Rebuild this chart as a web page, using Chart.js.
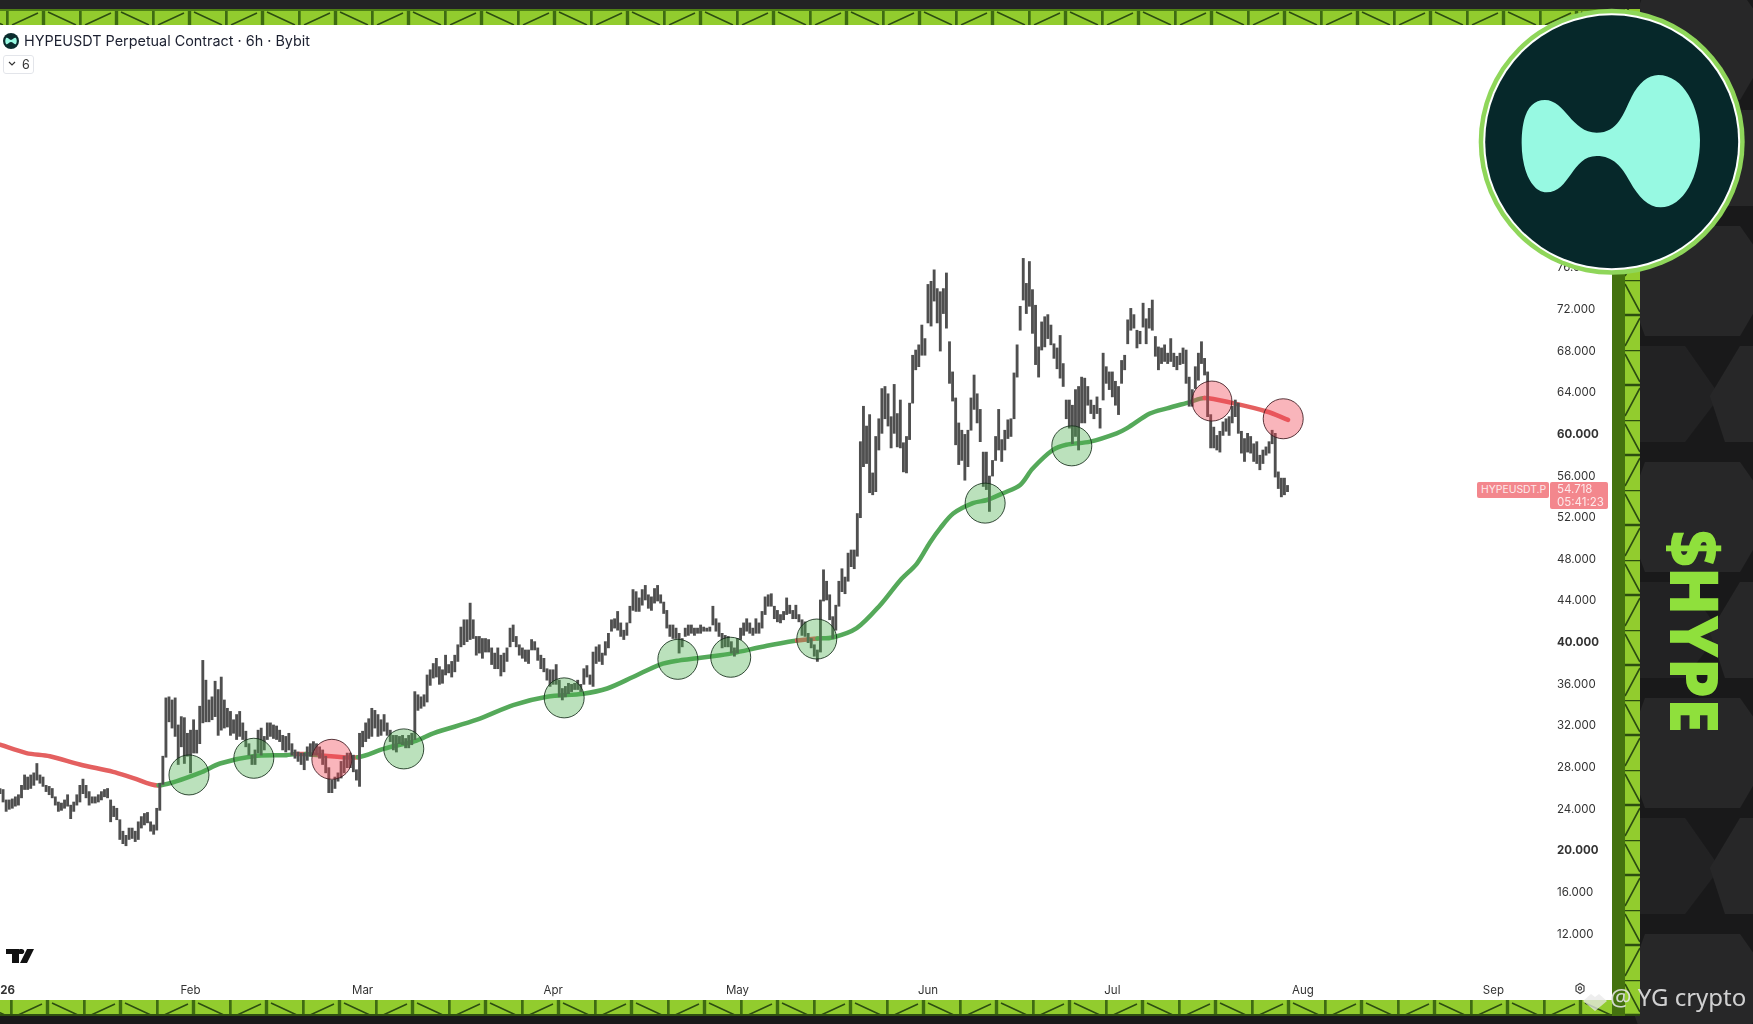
<!DOCTYPE html>
<html>
<head>
<meta charset="utf-8">
<title>HYPEUSDT</title>
<script src="https://cdn.jsdelivr.net/npm/chart.js@4"></script>
<style>
  html, body { margin: 0; padding: 0; background: #19191a; }
  #page { position: relative; width: 1753px; height: 1024px; overflow: hidden; font-family: Inter, "Noto Sans", sans-serif; }
  #bg, #front { position: absolute; left: 0; top: 0; }
  #sheet { position: absolute; left: 0; top: 25px; width: 1612px; height: 975px; background: #fff; }
  #chart { display: block; }
  #title { position: absolute; left: 24px; top: 32px; font-size: 14.4px; line-height: 18px; color: #1c2030; white-space: nowrap; }
  #fold { position: absolute; left: 3px; top: 55px; width: 31px; height: 19px; border: 1px solid #e3e5ea; border-radius: 3px; box-sizing: border-box; font-size: 12.5px; line-height: 18px; color: #333; padding-left: 18px; }
  .tag { position: absolute; background: #f3878d; color: #fde9ea; font-size: 11.5px; border-radius: 2px; box-sizing: border-box; }
  #tagName { left: 1477px; top: 482px; width: 72px; height: 16px; line-height: 16px; padding-left: 4px; font-size: 10.4px; }
  #tagPrice { left: 1550px; top: 482px; width: 58px; height: 27px; line-height: 13px; padding: 1px 0 0 7px; }
</style>
</head>
<body>
<div id="page">
  <svg id="bg" width="1753" height="1024" xmlns="http://www.w3.org/2000/svg">
    <defs>
      <pattern id="plates" width="150" height="236" patternUnits="userSpaceOnUse" x="1625" y="-30">
        <polygon points="20,20 115,20 150,70 115,130 20,130 0,75" fill="#272728"/>
        <polygon points="-30,140 60,140 95,190 60,236 -30,236" fill="#222223"/>
        <polygon points="115,140 150,140 150,236 100,236 85,190" fill="#272728"/>
      </pattern>
      <pattern id="girderH" width="73" height="16" patternUnits="userSpaceOnUse" x="6" y="9">
        <rect width="73" height="16" fill="#92cc2e"/>
        <path d="M1 0V16M37.5 0V16" stroke="#3e6b12" stroke-width="3.4"/>
        <path d="M6 16L32 4M42 3L70 16" stroke="#2c4d10" stroke-width="1.6" fill="none"/>
        <rect width="73" height="2" fill="#4f8016"/>
      </pattern>
      <pattern id="girderB" width="73" height="16" patternUnits="userSpaceOnUse" x="10" y="1000">
        <rect width="73" height="16" fill="#92cc2e"/>
        <path d="M1 0V16M37.5 0V16" stroke="#3e6b12" stroke-width="3.4"/>
        <path d="M6 16L32 4M42 3L70 16" stroke="#2c4d10" stroke-width="1.6" fill="none"/>
        <rect y="14" width="73" height="2" fill="#2f5010"/>
      </pattern>
      <pattern id="girderV" width="15" height="70" patternUnits="userSpaceOnUse" x="1625" y="0">
        <rect width="15" height="70" fill="#92cc2e"/>
        <path d="M0 0H15M0 35H15" stroke="#2c4d10" stroke-width="2.4"/>
        <path d="M0 4L15 32M15 38L0 66" stroke="#2c4d10" stroke-width="1.6" fill="none"/>
      </pattern>
    </defs>
    <rect width="1753" height="1024" fill="#19191a"/>
    <rect x="1625" width="128" height="1024" fill="url(#plates)"/>
    <rect y="0" width="1640" height="9" fill="#232324"/>
    <rect y="9" width="1640" height="16" fill="url(#girderH)"/>
    <rect y="1000" width="1640" height="16" fill="url(#girderB)"/>
    <rect x="1612" y="25" width="13" height="991" fill="#44720f"/>
    <rect x="1625" y="9" width="15" height="1007" fill="url(#girderV)"/>
    <text transform="translate(1670,530) rotate(90)" font-family="Open Sans, sans-serif" font-weight="800" font-size="68" fill="#8fe03c" textLength="203" lengthAdjust="spacingAndGlyphs">$HYPE</text>
  </svg>

  <div id="sheet"><canvas id="chart" width="1612" height="975"></canvas></div>

  <div id="title">HYPEUSDT Perpetual Contract · 6h · Bybit</div>
  <div id="fold">6</div>
  <div id="tagName" class="tag">HYPEUSDT.P</div>
  <div id="tagPrice" class="tag">54.718<br>05:41:23</div>

  <svg id="front" width="1753" height="1024" xmlns="http://www.w3.org/2000/svg" style="pointer-events:none">
    <!-- small symbol icon + fold chevron -->
    <circle cx="11" cy="41" r="8" fill="#0b2c2e"/>
    <path d="M6 38c2-1 3 2 5 2s3-3 5-2c1 2 1 4 0 6c-2 1-3-2-5-2s-3 3-5 2c-1-2-1-4 0-6z" fill="#97f9e2"/>
    <path d="M9 62l3 3l3-3" fill="none" stroke="#333" stroke-width="1.2"/>
    <!-- tradingview mark -->
    <path d="M6 949H19V963H12V954H6ZM21 949A2.6 2.6 0 1 1 21 954A2.6 2.6 0 1 1 21 949ZM27 949H34L27 963H20Z" fill="#111"/>
    <!-- settings icon -->
    <path d="M1576 986l4-2.5 4 2.5v5l-4 2.5-4-2.5z" fill="none" stroke="#444" stroke-width="1.2"/>
    <circle cx="1580" cy="988.5" r="1.6" fill="none" stroke="#444" stroke-width="1.1"/>
    <!-- logo -->
    <circle cx="1611.7" cy="141.7" r="133" fill="#8fd65a"/>
    <circle cx="1611.7" cy="141.7" r="128.5" fill="#fff"/>
    <circle cx="1611.7" cy="141.7" r="126.5" fill="#06282a"/>
    <g transform="translate(1440 0) scale(0.3333)">
      <path d="M245 430C245 345 268 300 315 300C375 300 395 398 470 398C535 398 550 340 575 290C595 250 625 225 655 225C730 225 780 320 780 420C780 530 730 622 662 622C625 622 595 590 570 545C545 500 520 468 470 468C395 468 390 577 320 577C275 577 245 510 245 430Z" fill="#97f9e2"/>
    </g>
    <!-- watermark -->
    <path d="M1583 1001l8-7 4 3 4-3 8 7-12 10z" fill="#e8e8e8" opacity="0.75"/>
    <text x="1610" y="1006" font-family="Noto Sans, sans-serif" font-size="24" fill="#e4e4e4" opacity="0.9">@ YG crypto</text>
  </svg>
</div>

<script>
// one low/high pair per half day from 1 Jan 2026
const candleLow = [
  25.5,24.7,23.8,24.0,24.1,24.3,24.4,25.1,25.9,25.9,26.0,26.3,26.8,26.5,26.2,25.7,25.4,25.1,24.4,23.8,
  23.9,24.1,24.3,23.1,23.8,24.4,24.7,25.5,25.1,24.4,24.6,24.6,24.7,24.9,25.2,25.1,22.8,23.3,23.0,21.1,
  20.7,20.5,21.1,21.2,20.9,21.1,22.2,22.5,22.7,21.9,21.6,22.0,23.9,26.4,29.0,32.4,31.8,31.0,28.3,30.0,
  28.4,29.1,27.5,29.4,29.4,30.3,32.3,32.4,32.4,32.6,32.9,31.1,31.6,31.8,31.9,31.1,31.3,30.7,31.0,30.7,
  30.0,29.2,28.3,28.3,29.4,29.2,29.7,30.7,31.0,30.8,30.7,30.5,29.7,29.5,29.7,29.2,28.9,28.6,28.3,27.8,
  28.7,29.1,29.2,29.2,28.9,28.3,27.5,25.6,25.6,26.0,26.7,27.0,27.5,28.0,28.0,27.6,26.8,26.2,30.0,30.5,
  30.8,31.0,31.8,31.0,31.1,31.5,31.1,30.5,29.7,29.5,30.3,30.2,29.9,29.9,30.2,30.7,33.5,33.7,33.9,34.3,
  35.9,36.6,36.7,36.0,36.1,36.9,37.1,36.7,37.2,38.2,39.6,39.8,40.1,40.3,40.4,38.8,39.0,38.5,39.1,39.1,
  37.9,37.5,37.5,36.8,37.2,38.2,39.6,40.1,39.6,38.8,38.5,38.2,38.0,39.3,39.3,38.3,37.5,37.2,36.4,35.8,
  36.0,36.0,34.8,34.5,34.8,35.1,35.3,35.5,35.5,35.3,36.0,36.7,36.0,35.8,38.0,38.2,37.9,38.8,39.5,41.1,
  41.4,41.2,40.6,40.3,40.7,41.9,43.1,43.0,43.0,43.6,44.1,43.3,43.1,43.8,44.0,43.8,42.8,41.4,40.6,40.4,
  40.4,39.0,39.6,40.6,40.7,40.9,40.7,40.9,40.9,41.1,41.1,41.1,41.7,41.1,40.6,39.5,39.6,39.6,39.0,38.7,
  39.0,40.3,40.7,41.1,40.9,40.7,40.9,40.9,41.4,42.7,43.5,43.5,42.3,42.0,41.9,42.2,42.7,42.8,42.3,42.3,
  42.0,40.7,40.6,40.0,39.5,38.7,38.2,39.1,44.0,44.1,42.2,40.4,41.2,43.5,44.9,44.7,45.9,47.3,47.1,48.3,
  52.0,56.9,57.2,54.4,54.2,54.5,58.5,60.1,61.5,60.8,58.7,60.1,58.8,58.7,56.4,56.3,59.5,63.0,66.2,66.5,
  67.6,67.6,70.7,70.4,72.8,70.7,68.0,71.6,70.2,64.9,63.2,59.0,57.1,57.5,55.6,56.9,60.4,62.4,61.1,59.3,
  55.0,54.7,52.6,56.0,57.5,58.5,57.4,58.5,59.6,59.8,61.5,65.5,70.0,72.9,71.6,72.3,69.7,66.7,65.5,68.1,
  68.4,69.2,68.6,67.3,66.3,65.4,64.6,61.5,60.6,59.1,59.8,58.5,61.1,61.1,62.8,62.0,61.5,62.0,60.6,63.3,
  64.9,64.3,63.6,62.8,61.9,64.9,66.2,68.7,70.0,70.2,68.3,68.7,70.3,68.7,70.2,70.0,67.5,66.2,66.8,67.0,
  66.8,67.0,66.5,66.2,66.7,66.8,64.9,62.7,62.7,64.4,65.2,66.8,65.7,61.7,58.7,58.7,58.5,58.3,59.9,60.3,
  59.9,61.1,61.7,60.1,58.2,57.4,58.3,58.2,57.4,57.2,56.6,57.2,58.0,58.2,59.1,55.9,54.8,54.0,54.2,54.5
];
const candleHigh = [
  26.0,25.9,24.9,24.9,25.0,25.2,25.4,26.3,27.3,27.1,27.3,27.5,28.4,27.3,27.1,26.3,26.2,26.0,25.2,24.7,
  24.6,24.9,25.4,24.4,24.7,25.4,26.3,26.9,26.3,25.7,25.2,25.2,25.4,25.7,25.9,26.0,24.9,24.3,24.1,23.0,
  21.9,21.5,22.2,22.2,21.9,22.8,23.3,23.6,23.7,22.8,22.5,24.1,26.5,29.1,34.7,34.8,34.5,34.7,32.1,32.9,
  32.8,31.3,31.6,32.6,31.6,33.9,38.3,36.4,34.5,34.8,36.3,35.5,36.7,34.5,33.7,33.4,32.6,33.1,33.4,32.3,
  31.5,30.3,29.2,29.7,31.6,31.8,31.0,32.3,32.3,32.1,32.0,31.6,31.1,31.0,31.3,30.3,29.7,29.5,29.4,29.4,
  30.0,30.3,30.5,30.3,30.0,29.7,29.1,28.0,26.8,27.1,27.5,28.6,29.1,29.4,29.4,29.2,27.8,31.3,31.5,32.3,
  32.7,33.7,33.5,33.1,32.6,33.1,32.3,31.6,31.1,31.1,31.0,31.1,30.8,31.1,31.3,35.3,35.0,34.8,35.0,36.9,
  37.4,38.0,38.5,37.7,37.4,38.8,37.9,38.2,38.8,39.8,41.5,42.2,42.2,43.8,42.2,40.6,40.6,40.4,40.4,40.3,
  39.5,39.0,39.5,38.8,39.0,39.5,41.4,41.7,40.6,39.8,39.5,39.3,39.3,40.3,40.1,39.5,38.8,38.5,37.5,37.4,
  37.4,37.9,36.4,35.6,35.8,36.1,36.0,36.1,36.4,36.0,37.5,37.8,36.9,39.1,39.6,39.8,39.0,40.1,40.9,42.2,
  42.3,43.0,41.9,41.2,41.9,43.5,45.1,44.9,44.3,45.1,45.5,44.6,44.4,45.2,45.5,44.6,43.9,43.1,41.7,41.7,
  41.4,40.9,40.4,41.4,41.7,41.7,41.4,41.4,41.7,41.5,41.4,41.5,43.5,42.3,41.9,40.9,40.7,40.6,40.1,39.5,
  40.4,41.4,41.9,42.3,41.9,41.4,42.3,41.9,43.0,44.4,44.6,44.7,43.5,43.1,42.7,43.0,44.3,43.6,43.1,43.6,
  42.7,42.2,42.0,40.9,40.4,39.8,39.3,44.1,47.0,45.9,44.6,42.5,43.6,45.9,47.1,46.3,48.6,48.9,48.9,52.4,
  59.3,62.7,60.8,61.9,56.3,59.8,61.5,64.4,64.6,63.9,61.7,64.8,62.0,63.3,59.2,59.8,63.0,67.6,68.1,68.6,
  70.5,69.2,74.4,74.7,75.8,74.0,73.7,74.0,75.5,68.9,66.0,63.5,61.1,60.4,60.0,60.4,63.5,65.7,63.9,62.4,
  58.3,58.3,56.0,57.5,59.8,62.4,59.5,60.4,61.4,61.5,65.9,68.6,72.3,76.9,74.5,76.6,73.9,72.4,68.4,70.8,
  71.3,71.5,70.5,68.7,68.3,69.5,66.8,63.3,63.3,62.8,64.3,64.6,65.5,65.4,64.6,63.3,62.8,63.6,62.5,67.8,
  66.5,66.0,66.0,65.1,64.6,67.1,67.6,71.0,72.1,71.5,70.0,69.9,72.6,71.1,72.1,72.9,69.4,68.4,68.3,68.6,
  67.8,69.2,67.8,67.5,67.8,68.3,68.1,65.5,64.3,66.5,67.8,68.9,67.3,66.0,61.9,60.7,59.9,60.3,61.2,61.5,
  61.7,62.7,63.3,63.0,60.3,59.6,60.1,59.8,59.1,59.3,58.0,58.5,58.8,59.3,60.4,60.1,56.4,55.8,55.8,55.1
];

// moving average, sampled off the drawn line; flag 1 = red stretch starting at that point
const maDays = [0,4.3,8.1,13,18.4,21.7,25.8,32.5,35.8,41.2,46.6,48.1,49.7,52,58.2,62.4,67.8,70.5,77.6,83.5,89,94.9,98.8,103,107.4,110.6,113.4,117.2,119.3,124.8,129.7,131.3,133,135.5,139.4,143.2,146.5,149.2,151.3,153,155.1,158.3,160.6,163.2,166,168,171.3,173.5,177.4,181.7,183.4,187.1,189.9,193.6,196,200.6,206.1,209.6];
const maValues = [30.2,29.4,29.1,28.3,27.6,27.0,26.3,27.5,28.4,29.1,29.2,29.3,29.3,29.2,29.0,29.8,30.6,31.3,32.6,34.0,34.8,35.1,35.6,36.7,37.9,38.3,38.5,38.8,39.0,39.7,40.2,40.3,40.4,40.5,41.4,43.6,46.0,47.6,49.6,51.0,52.4,53.4,53.7,54.35,55.15,56.7,58.5,59.0,59.3,60.1,60.6,62.0,62.5,63.1,63.5,63.0,62.2,61.4];
const maRed = [1,1,1,1,1,1,0,0,0,0,0,1,0,1,0,0,0,0,0,0,0,0,0,0,0,0,0,0,0,0,1,1,0,0,0,0,0,0,0,0,0,0,0,0,0,0,0,0,0,0,0,0,0,0,1,1,1,0];

// touch markers
const greenDays = [30.75,41.3,65.7,91.8,110.3,118.9,132.9,160.3,174.4];
const greenValues = [27.3,28.9,29.8,34.7,38.4,38.6,40.35,53.4,58.9];
const redDays = [54.0,197.2,208.8];
const redValues = [28.8,63.2,61.5];

const monthDays = [0,31,59,90,120,151,181,212,243];
const monthLabels = ['2026','Feb','Mar','Apr','May','Jun','Jul','Aug','Sep'];
const priceTicks = [12,16,20,24,28,32,36,40,44,48,52,56,60,64,68,72,76];
const boldPrices = [20,40,60];

function pts(xs, ys) { return xs.map((x, i) => ({ x: x, y: ys[i] })); }

new Chart(document.getElementById('chart').getContext('2d'), {
  type: 'bar',
  data: {
    datasets: [
      { type: 'scatter', data: pts(greenDays, greenValues), pointRadius: 20, pointHoverRadius: 20, borderWidth: 1, borderColor: 'rgba(20,45,25,0.85)', backgroundColor: 'rgba(76,175,80,0.38)', order: 0 },
      { type: 'scatter', data: pts(redDays, redValues), pointRadius: 20, pointHoverRadius: 20, borderWidth: 1, borderColor: 'rgba(60,25,30,0.85)', backgroundColor: 'rgba(240,70,85,0.4)', order: 0 },
      { type: 'bar', data: candleLow.map((lo, i) => ({ x: i / 2, y: [lo, candleHigh[i]] })), barThickness: 2.2, backgroundColor: '#4f4f4f', grouped: false, order: 1 },
      { type: 'line', data: pts(maDays, maValues), borderWidth: 4.5, pointRadius: 0, tension: 0.3, borderCapStyle: 'round', borderColor: '#55a95a',
        segment: { borderColor: c => maRed[c.p0DataIndex] ? '#e46060' : '#55a95a' }, order: 2 }
    ]
  },
  options: {
    responsive: false,
    animation: false,
    events: [],
    layout: { padding: 0, autoPadding: false },
    plugins: { legend: { display: false }, tooltip: { enabled: false }, title: { display: false } },
    scales: {
      x: {
        type: 'linear', min: 0, max: 252.7, offset: false,
        grid: { display: false, drawTicks: false }, border: { display: false },
        afterBuildTicks: s => { s.ticks = monthDays.map(v => ({ value: v })); },
        afterFit: s => { s.height = 25; s.paddingLeft = 0; s.paddingRight = 0; },
        ticks: {
          autoSkip: false, maxRotation: 0, minRotation: 0, padding: 9, color: '#333',
          font: c => ({ family: 'Inter', size: 11.5, weight: c.tick && c.tick.value === 0 ? 'bold' : 'normal' }),
          callback: (v, i) => monthLabels[i]
        }
      },
      y: {
        type: 'linear', position: 'right', min: 8.09, max: 99.31,
        grid: { display: false, drawTicks: false }, border: { display: false },
        afterBuildTicks: s => { s.ticks = priceTicks.map(v => ({ value: v })); },
        afterFit: s => { s.width = 59; s.paddingTop = 0; s.paddingBottom = 0; },
        ticks: {
          autoSkip: false, padding: 4, color: '#333',
          font: c => ({ family: 'Inter', size: 11.5, weight: c.tick && boldPrices.includes(c.tick.value) ? 'bold' : 'normal' }),
          callback: v => v.toFixed(3)
        }
      }
    }
  }
});
</script>
</body>
</html>
